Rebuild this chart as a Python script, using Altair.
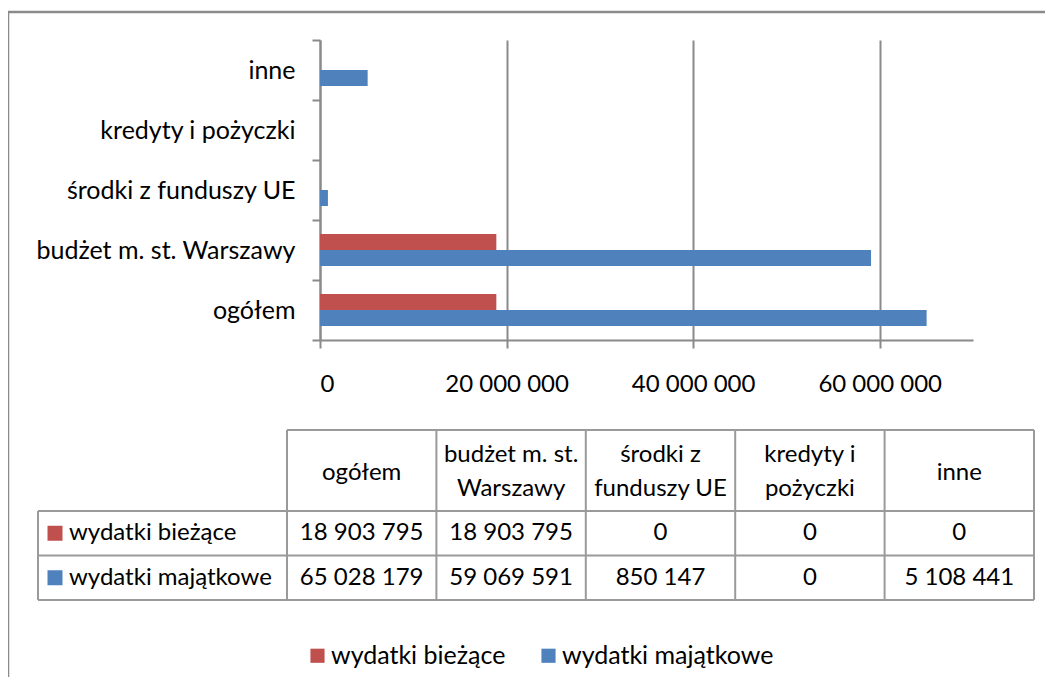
import altair as alt
import pandas as pd

categories = ["ogółem", "budżet m. st. Warszawy", "środki z funduszy UE", "kredyty i pożyczki", "inne"]
headers = ["ogółem", "budżet m. st.\nWarszawy", "środki z\nfunduszy UE", "kredyty i\npożyczki", "inne"]
series = ["wydatki bieżące", "wydatki majątkowe"]
biezace = [18903795, 18903795, 0, 0, 0]
majatkowe = [65028179, 59069591, 850147, 0, 5108441]
colors = ["#C0504D", "#4F81BD"]
x_ticks = [0, 20000000, 40000000, 60000000]

rows = []
for i, c in enumerate(categories):
    rows.append({"category": c, "series": series[0], "value": biezace[i]})
    rows.append({"category": c, "series": series[1], "value": majatkowe[i]})
df = pd.DataFrame(rows)
hdr = pd.DataFrame({"category": categories, "header": headers})
ser = pd.DataFrame({"series": series})
one = pd.DataFrame({"a": [0]})

FONT = "Lato"
FS = 24
GRID = "#8a8a8a"
TBL = "#9a9a9a"
FMT = "replace(format(datum.value, ','), /,/g, ' ')"

color = alt.Color(
    "series:N",
    scale=alt.Scale(domain=series, range=colors),
    legend=alt.Legend(
        orient="none", legendX=-15, legendY=603, direction="horizontal", title=None,
        symbolType="square", symbolSize=200, symbolStrokeWidth=0,
        labelFont=FONT, labelFontSize=25, labelOffset=1, columnPadding=30,
        labelLimit=400, padding=0, labelColor="#000",
    ),
)

bars = alt.Chart(df).mark_bar().encode(
    x=alt.X(
        "value:Q",
        scale=alt.Scale(domain=[0, 70000000], nice=False),
        axis=alt.Axis(
            values=x_ticks, labelExpr=FMT, title=None, grid=True,
            gridColor=GRID, gridWidth=2, domainColor=GRID, domainWidth=2,
            tickColor=GRID, tickWidth=2, tickSize=8,
            labelFont=FONT, labelFontSize=FS, labelPadding=24, labelColor="#000",
        ),
    ),
    y=alt.Y(
        "category:N", sort=categories[::-1],
        scale=alt.Scale(paddingInner=0, paddingOuter=0),
        axis=alt.Axis(
            title=None, tickBand="extent", domainColor=GRID, domainWidth=2,
            tickColor=GRID, tickWidth=2, tickSize=8, labelFont=FONT,
            labelFontSize=25, labelPadding=17, labelColor="#000", labelLimit=400,
        ),
    ),
    yOffset=alt.YOffset(
        "series:N", sort=series,
        scale=alt.Scale(domain=series, paddingInner=0, paddingOuter=0.875),
    ),
    color=color,
)

tx_scale = alt.Scale(type="band", domain=categories, range=[-33, 714], paddingInner=0, paddingOuter=0)
ty_scale = alt.Scale(type="band", domain=series, range=[471, 560], paddingInner=0, paddingOuter=0)

def tx(bp=None):
    if bp is None:
        return alt.X("category:N", sort=categories, scale=tx_scale, axis=None)
    return alt.X("category:N", sort=categories, scale=tx_scale, axis=None, bandPosition=bp)

def ty(bp=None):
    if bp is None:
        return alt.Y("series:N", sort=series, scale=ty_scale, axis=None)
    return alt.Y("series:N", sort=series, scale=ty_scale, axis=None, bandPosition=bp)

# outer frame
frame_top = alt.Chart(one).mark_rule(color=GRID, strokeWidth=2.5).encode(
    x=alt.value(-312), x2=alt.value(730), y=alt.value(-28))
frame_left = alt.Chart(one).mark_rule(color=GRID, strokeWidth=2.5).encode(
    x=alt.value(-312), y=alt.value(-28), y2=alt.value(640))

# table grid
v_lines = alt.Chart(hdr).mark_rule(color=TBL, strokeWidth=2).encode(
    x=tx(0), y=alt.value(390), y2=alt.value(560))
v_right = alt.Chart(hdr).transform_filter(alt.datum.category == categories[-1]).mark_rule(
    color=TBL, strokeWidth=2).encode(x=tx(1), y=alt.value(390), y2=alt.value(560))
v_left = alt.Chart(one).mark_rule(color=TBL, strokeWidth=2).encode(
    x=alt.value(-282), y=alt.value(471), y2=alt.value(560))
h_top = alt.Chart(one).mark_rule(color=TBL, strokeWidth=2).encode(
    x=alt.value(-33), x2=alt.value(714), y=alt.value(390))
h_lines = alt.Chart(ser).mark_rule(color=TBL, strokeWidth=2).encode(
    y=ty(0), x=alt.value(-282), x2=alt.value(714))
h_bottom = alt.Chart(ser).transform_filter(alt.datum.series == series[-1]).mark_rule(
    color=TBL, strokeWidth=2).encode(y=ty(1), x=alt.value(-282), x2=alt.value(714))

head_one = alt.Chart(hdr).transform_filter(
    "indexof(datum.header, '\\n') < 0"
).mark_text(
    font=FONT, fontSize=FS, baseline="middle", color="#000"
).encode(x=tx(), y=alt.value(433), text="header:N")

head_two = alt.Chart(hdr).transform_filter(
    "indexof(datum.header, '\\n') >= 0"
).mark_text(
    font=FONT, fontSize=FS, lineBreak="\n", baseline="middle", color="#000", lineHeight=34
).encode(x=tx(), y=alt.value(415), text="header:N")

val_text = alt.Chart(df).transform_calculate(label=FMT).mark_text(
    font=FONT, fontSize=FS, baseline="middle", color="#000"
).encode(x=tx(), y=ty(), text="label:N")

row_text = alt.Chart(ser).mark_text(
    font=FONT, fontSize=FS, baseline="middle", align="left", color="#000"
).encode(x=alt.value(-251), y=ty(), text="series:N")

swatch = alt.Chart(ser).mark_square(size=225, opacity=1).encode(
    x=alt.value(-265), y=ty(), color=color)

chart = alt.layer(
    frame_top, frame_left, bars,
    v_lines, v_right, v_left, h_top, h_lines, h_bottom,
    head_one, head_two, val_text, row_text, swatch,
).resolve_scale(x="independent", y="independent").properties(
    width=653, height=300,
    autosize=alt.AutoSizeParams(type="none"),
    padding={"left": 312, "top": 32, "right": 72, "bottom": 337},
).configure_view(stroke=None)

chart.save("out.html", embed_options={"renderer": "svg", "actions": False})
